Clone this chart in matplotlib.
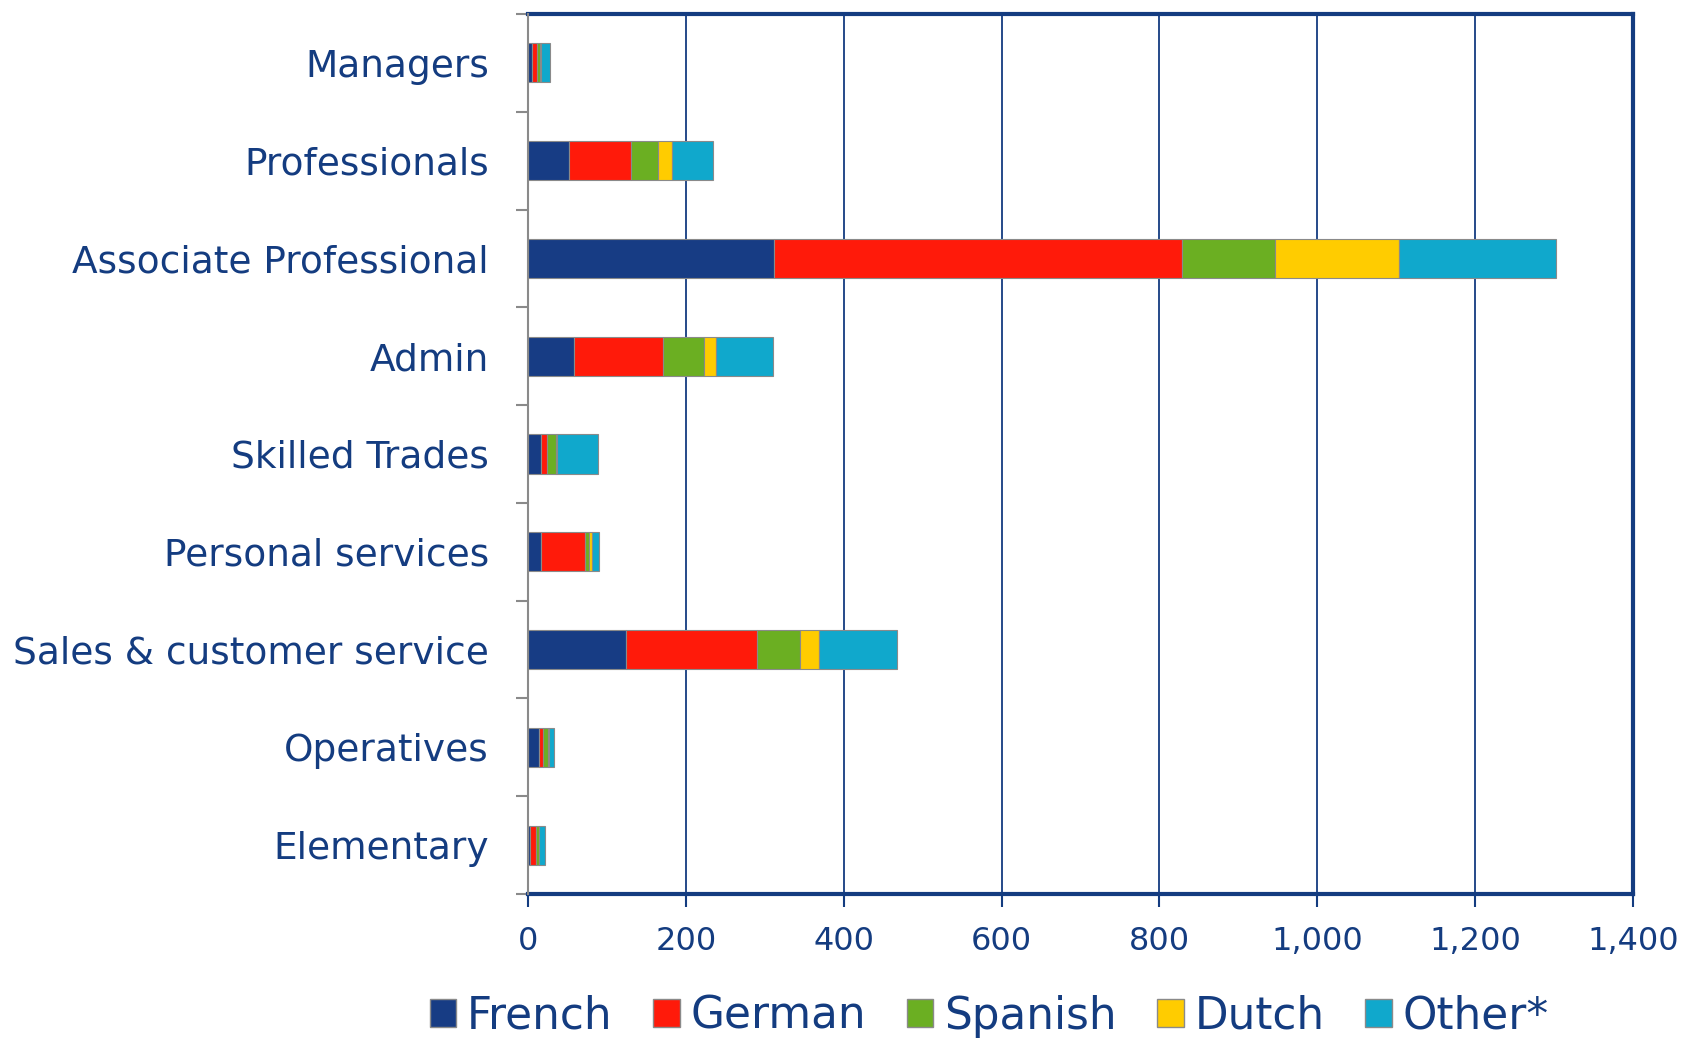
import matplotlib
matplotlib.use("Agg")
import matplotlib.pyplot as plt
from matplotlib.patches import Patch
from matplotlib.ticker import FuncFormatter
import numpy as np

categories = ["Managers", "Professionals", "Associate Professional", "Admin",
              "Skilled Trades", "Personal services", "Sales & customer service",
              "Operatives", "Elementary"]
french  = [5, 52, 312, 58, 17, 17, 124, 14, 2]
german  = [6, 79, 517, 113, 7, 55, 166, 5, 8]
spanish = [4, 34, 118, 52, 11, 5, 55, 6, 4]
dutch   = [1, 17, 156, 15, 2, 4, 24, 1, 0]
other   = [12, 52, 200, 72, 52, 9, 99, 7, 8]
series_names = ["French", "German", "Spanish", "Dutch", "Other*"]
x_ticks = [0, 200, 400, 600, 800, 1000, 1200, 1400]

colors = ["#173C84", "#FF1A0A", "#6BAF22", "#FFCC00", "#10A8CC"]
navy = "#143C80"

plt.rcParams['font.family'] = ['DejaVu Sans Condensed', 'DejaVu Sans']

fig = plt.figure(figsize=(16.91, 10.46), dpi=100)
ax = fig.add_axes([528/1691, 1 - 894/1046, (1633-528)/1691, (894-14)/1046])

y = np.arange(len(categories))
left = np.zeros(len(categories))
for vals, col, name in zip([french, german, spanish, dutch, other], colors, series_names):
    v = np.array(vals, dtype=float)
    ax.barh(y, v, left=left, height=0.4, color=col, edgecolor="#8a8a8a",
            linewidth=0.8, label=name, zorder=3)
    left += v

ax.set_xlim(0, 1400)
ax.set_ylim(len(categories) - 0.5, -0.5)
ax.set_xticks(x_ticks)
ax.xaxis.set_major_formatter(FuncFormatter(lambda v, p: f"{int(v):,}"))
ax.set_yticks(y)
ax.set_yticklabels(categories)
ax.set_yticks(np.arange(-0.5, len(categories) + 0.5, 1), minor=True)
ax.tick_params(axis="y", which="major", length=0, pad=28, labelsize=27, labelcolor=navy)
ax.tick_params(axis="y", which="minor", length=9, width=1.5, color="#8a8a8a")
ax.tick_params(axis="x", which="major", length=9, width=1.5, color=navy,
               labelsize=23, labelcolor=navy, pad=14)

ax.grid(axis="x", color=navy, linewidth=1.3, zorder=0)
ax.set_axisbelow(True)
for s in ["top", "right", "bottom"]:
    ax.spines[s].set_color(navy)
    ax.spines[s].set_linewidth(3)
ax.spines["left"].set_color("#8a8a8a")
ax.spines["left"].set_linewidth(1.5)
ax.spines["left"].set_zorder(4)

handles = [Patch(facecolor=c, edgecolor="#8a8a8a", label=n) for c, n in zip(colors, series_names)]
leg = fig.legend(handles=handles, loc="center", bbox_to_anchor=(0.585, 1 - 1016/1046),
                 ncol=5, frameon=False, fontsize=31.5, handlelength=0.6, handleheight=0.6,
                 handletextpad=0.25, columnspacing=0.93)
for t in leg.get_texts():
    t.set_color(navy)

fig.savefig("out.png", dpi=100)
